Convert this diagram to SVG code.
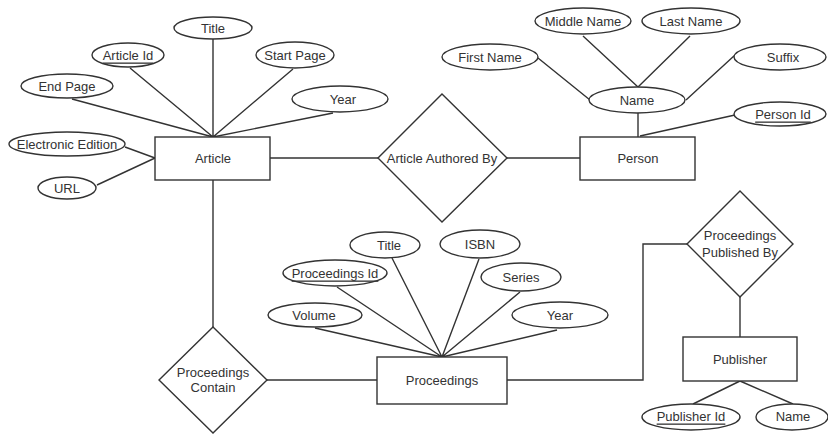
<svg xmlns="http://www.w3.org/2000/svg" width="828" height="435" viewBox="0 0 828 435">
<style>
.s{fill:#fff;stroke:#333;stroke-width:1.4}
.c{fill:none;stroke:#333;stroke-width:1.4}
text{font-family:"Liberation Sans",Arial,sans-serif;font-size:13px;fill:#333;text-anchor:middle;dominant-baseline:central}
.u{text-decoration:underline}
</style>
<rect width="828" height="435" fill="#fff"/>
<g id="connectors" class="c">
<path d="M213 39V137M130 68L213 137M72 99L213 137M293 69L213 137M333 113L213 137"/>
<path d="M125 147L155 158M97 185L155 158"/>
<path d="M270 158H378M507 158H580"/>
<path d="M213 180V327"/>
<path d="M538 58L590 100M583 36L638 87M690 36L638 87M735 55L686 100"/>
<path d="M638 113V137M735 115L640 136"/>
<path d="M267 380H377"/>
<path d="M315 328L442 357M337 287L442 357M392 258L442 357M479 259L442 357M520 292L442 357M557 330L442 357"/>
<path d="M507 380H643V244H687"/>
<path d="M740 297V337"/>
<path d="M740 381L693 404M740 381L793 404"/>
</g>
<g id="article"><rect class="s" x="155" y="137" width="115" height="43"/><text x="213" y="158">Article</text></g>
<g id="article-title"><ellipse class="s" cx="213" cy="28" rx="39" ry="11"/><text x="213" y="28">Title</text></g>
<g id="article-id"><ellipse class="s" cx="128" cy="55" rx="36" ry="12"/><text class="u" x="128" y="55">Article Id</text></g>
<g id="start-page"><ellipse class="s" cx="295" cy="55" rx="39" ry="13"/><text x="295" y="55">Start Page</text></g>
<g id="end-page"><ellipse class="s" cx="67" cy="86" rx="46" ry="12"/><text x="67" y="86">End Page</text></g>
<g id="article-year"><ellipse class="s" cx="340" cy="99" rx="48" ry="13"/><text x="343" y="99">Year</text></g>
<g id="electronic-edition"><ellipse class="s" cx="67" cy="144" rx="58" ry="12"/><text x="67" y="144">Electronic Edition</text></g>
<g id="url"><ellipse class="s" cx="67" cy="188" rx="29" ry="11"/><text x="67" y="188">URL</text></g>
<g id="article-authored-by"><polygon class="s" points="442,94 507,158 442,222 378,158"/><text x="442" y="158">Article Authored By</text></g>
<g id="person"><rect class="s" x="580" y="137" width="115" height="43"/><text x="638" y="158">Person</text></g>
<g id="name"><ellipse class="s" cx="637" cy="100" rx="48" ry="13"/><text x="637" y="100">Name</text></g>
<g id="first-name"><ellipse class="s" cx="490" cy="57" rx="48" ry="13"/><text x="490" y="57">First Name</text></g>
<g id="middle-name"><ellipse class="s" cx="583" cy="21" rx="48" ry="13"/><text x="583" y="21">Middle Name</text></g>
<g id="last-name"><ellipse class="s" cx="691" cy="21" rx="49" ry="13"/><text x="691" y="21">Last Name</text></g>
<g id="suffix"><ellipse class="s" cx="780" cy="57" rx="46" ry="13"/><text x="783" y="57">Suffix</text></g>
<g id="person-id"><ellipse class="s" cx="780" cy="114" rx="46" ry="12"/><text class="u" x="783" y="114">Person Id</text></g>
<g id="proceedings-contain"><polygon class="s" points="213,327 267,380 213,433 159,380"/><text x="213" y="372">Proceedings</text><text x="213" y="387">Contain</text></g>
<g id="proceedings"><rect class="s" x="377" y="357" width="130" height="47"/><text x="442" y="380">Proceedings</text></g>
<g id="proc-title"><ellipse class="s" cx="385" cy="245" rx="35" ry="13"/><text x="389" y="245">Title</text></g>
<g id="proceedings-id"><ellipse class="s" cx="335" cy="273" rx="52" ry="13"/><text class="u" x="335" y="273">Proceedings Id</text></g>
<g id="volume"><ellipse class="s" cx="315" cy="315" rx="47" ry="12"/><text x="314" y="315">Volume</text></g>
<g id="isbn"><ellipse class="s" cx="480" cy="244" rx="40" ry="14"/><text x="480" y="244">ISBN</text></g>
<g id="series"><ellipse class="s" cx="521" cy="277" rx="40" ry="14"/><text x="521" y="277">Series</text></g>
<g id="proc-year"><ellipse class="s" cx="560" cy="315" rx="48" ry="13"/><text x="560" y="315">Year</text></g>
<g id="proceedings-published-by"><polygon class="s" points="740,191 793,244 740,297 687,244"/><text x="740" y="235">Proceedings</text><text x="740" y="252">Published By</text></g>
<g id="publisher"><rect class="s" x="683" y="337" width="114" height="44"/><text x="740" y="359">Publisher</text></g>
<g id="publisher-id"><ellipse class="s" cx="691" cy="417" rx="49" ry="13"/><text class="u" x="691" y="416">Publisher Id</text></g>
<g id="publisher-name"><ellipse class="s" cx="792" cy="417" rx="36" ry="13"/><text x="793" y="416">Name</text></g>
</svg>
